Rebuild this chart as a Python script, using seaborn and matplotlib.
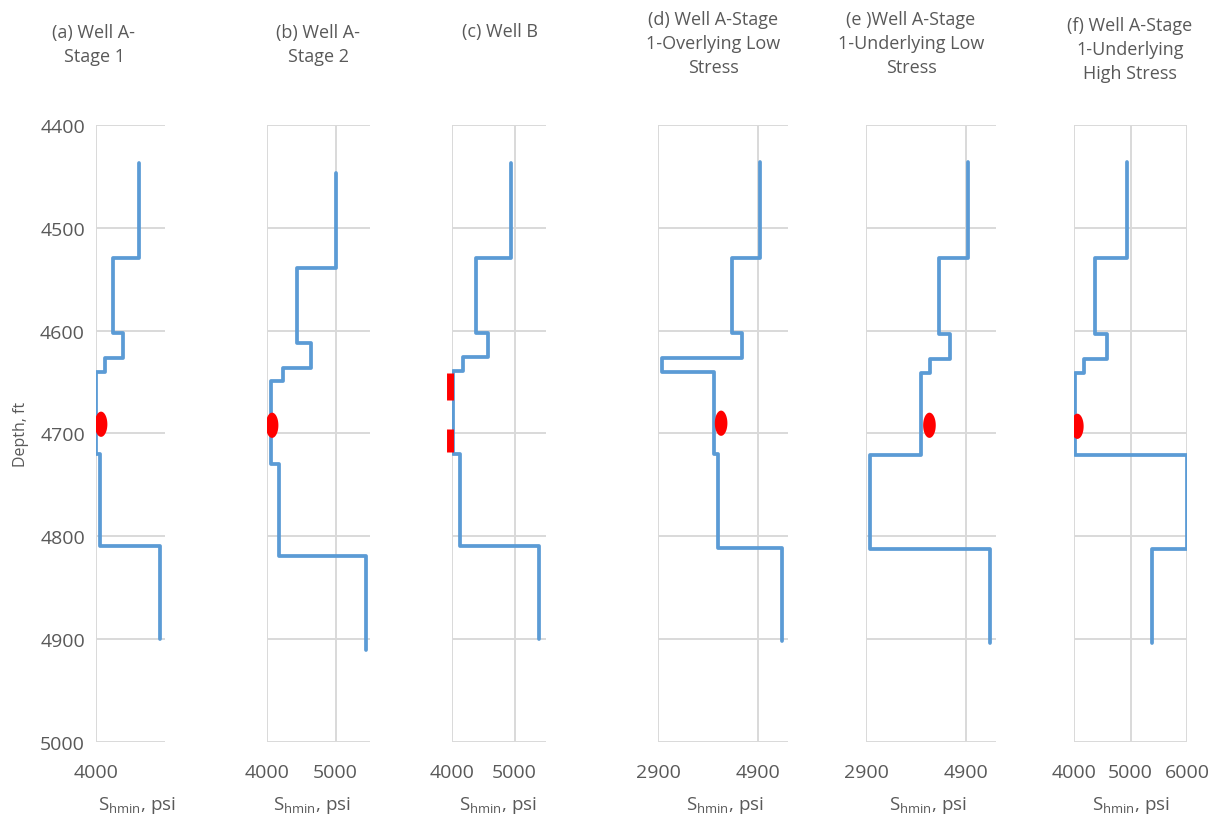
import numpy as np
import pandas as pd
import matplotlib
matplotlib.use("Agg")
import matplotlib.pyplot as plt
import seaborn as sns
from matplotlib.path import Path

sns.set_theme(style="white")
plt.rcParams["font.family"] = ["Open Sans", "DejaVu Sans"]
plt.rcParams["mathtext.fontset"] = "custom"
plt.rcParams["mathtext.rm"] = "Open Sans"

# ---- stress profiles: layer-boundary depths (ft) and Shmin per layer (psi) ----
titles = [
    "(a) Well A-\nStage 1",
    "(b) Well A-\nStage 2",
    "(c) Well B",
    "(d) Well A-Stage\n1-Overlying Low\nStress",
    "(e )Well A-Stage\n1-Underlying Low\nStress",
    "(f) Well A-Stage\n1-Underlying\nHigh Stress",
]

depth_a = [4437, 4529, 4602, 4627, 4640, 4720, 4809, 4900]
shmin_a = [4943, 4364, 4586, 4186, 4010, 4093, 5386]

depth_b = [4447, 4539, 4612, 4636, 4649, 4730, 4819, 4911]
shmin_b = [5010, 4431, 4642, 4230, 4064, 4172, 5446]

depth_c = [4437, 4529, 4602, 4626, 4639, 4720, 4809, 4900]
shmin_c = [4947, 4378, 4574, 4176, 4010, 4122, 5388]

depth_d = [4436, 4529, 4602, 4627, 4640, 4720, 4811, 4902]
shmin_d = [4940, 4388, 4581, 2986, 4016, 4109, 5378]

depth_e = [4436, 4529, 4603, 4628, 4641, 4721, 4812, 4904]
shmin_e = [4940, 4362, 4574, 4176, 4003, 2986, 5378]

depth_f = [4436, 4529, 4603, 4628, 4641, 4721, 4812, 4904]
shmin_f = [4941, 4376, 4576, 4182, 4018, 6000, 5388]

# fracture initiation points (psi, ft); None for Well B which shows perforations
frac_shmin = [4110, 4074, None, 4162, 4169, 4059]
frac_depth = [4691, 4692, None, 4690, 4692, 4693]

# perforation clusters in Well B (top, bottom depth in ft) drawn at this Shmin
perf_top = [4641, 4696]
perf_bottom = [4667, 4718]
perf_shmin = 3965

# axis settings
xlims = [(4000, 5500), (4000, 5500), (4000, 5500), (2900, 5500), (2900, 5500), (4000, 6000)]
xticks = [[4000], [4000, 5000], [4000, 5000], [2900, 4900], [2900, 4900], [4000, 5000, 6000]]
depth_ticks = [4400, 4500, 4600, 4700, 4800, 4900, 5000]

# axes placement in figure pixels (left, right)
px_lr = [(96, 165), (267, 370), (452, 546), (658, 788), (866, 996), (1074, 1187)]
title_x = [94, 318, 500, 713, 911, 1130]
title_cy = [45, 45, 32, 44, 44, 50]
xlabel_x = [137, 312, 498, 725, 928, 1131]

W, H = 1222, 820
top_px, bot_px = 126, 743

fig = plt.figure(figsize=(W / 100, H / 100), dpi=100)

depths = [depth_a, depth_b, depth_c, depth_d, depth_e, depth_f]
values = [shmin_a, shmin_b, shmin_c, shmin_d, shmin_e, shmin_f]

line_color = "#5B9BD5"
grid_color = "#D9D9D9"
text_color = "#595959"

# elliptical marker
theta = np.linspace(0, 2 * np.pi, 60)
ellipse = Path(np.column_stack([0.5 * np.cos(theta), np.sin(theta)]))

for i in range(6):
    l, r = px_lr[i]
    ax = fig.add_axes([l / W, 1 - bot_px / H, (r - l) / W, (bot_px - top_px) / H])
    d = np.asarray(depths[i], dtype=float)
    v = np.asarray(values[i], dtype=float)
    # step profile vertices: each layer is a vertical segment
    ys = np.repeat(d, 2)[1:-1]
    xs = np.repeat(v, 2)
    df = pd.DataFrame({"shmin": xs, "depth": ys})
    sns.lineplot(data=df, x="shmin", y="depth", sort=False, estimator=None,
                 color=line_color, lw=2.7, ax=ax, zorder=3)

    if frac_shmin[i] is not None:
        ax.scatter([frac_shmin[i]], [frac_depth[i]], marker=ellipse, s=330,
                   color="#FF0000", edgecolors="none", zorder=4)
    else:
        ax.vlines([perf_shmin] * len(perf_top), perf_top, perf_bottom,
                  colors="#FF0000", lw=5.0, zorder=4, clip_on=False)

    ax.set_xlim(*xlims[i])
    ax.set_ylim(5000, 4400)
    ax.set_xticks(xticks[i])
    ax.set_yticks(depth_ticks)
    ax.grid(True, color=grid_color, lw=1.4)
    ax.set_axisbelow(True)
    for s in ax.spines.values():
        s.set_visible(False)
    ax.tick_params(length=0, colors=text_color, labelsize=14)
    ax.tick_params(axis="x", pad=15)
    ax.set_xlabel("")
    if i == 0:
        ax.set_ylabel("Depth, ft", color=text_color, fontsize=11.5, labelpad=8)
        ax.tick_params(axis="y", pad=8)
    else:
        ax.set_ylabel("")
        ax.set_yticklabels([])

    fig.text(title_x[i] / W, 1 - title_cy[i] / H, titles[i], ha="center", va="center",
             fontsize=13, color=text_color, linespacing=1.45)
    fig.text(xlabel_x[i] / W, 1 - 806 / H, r"S$_{\mathregular{hmin}}$, psi",
             ha="center", va="center", fontsize=13.5, color=text_color)

fig.savefig("out.png", dpi=100)
